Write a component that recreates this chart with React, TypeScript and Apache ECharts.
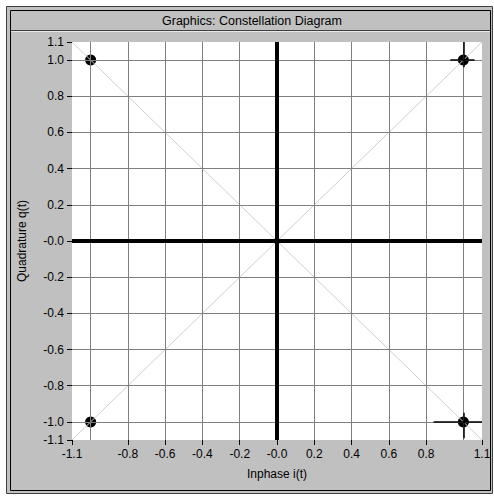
import React, { useEffect, useRef } from "react";
import * as echarts from "echarts";

const titleText = "Graphics: Constellation Diagram";
const xName = "Inphase i(t)";
const yName = "Quadrature q(t)";
const xTickValues = [-1.1, -0.8, -0.6, -0.4, -0.2, 0, 0.2, 0.4, 0.6, 0.8, 1.1];
const yTickValues = [-1.1, -1.0, -0.8, -0.6, -0.4, -0.2, 0, 0.2, 0.4, 0.6, 0.8, 1.0, 1.1];
const gridValues = [-1.0, -0.8, -0.6, -0.4, -0.2, 0.2, 0.4, 0.6, 0.8, 1.0];
const axisZero = [0];
const symbols = [
  [-1, 1],
  [1, 1],
  [-1, -1],
  [1, -1],
];
const diagonalA = [
  [-1.1, 1.1],
  [1.1, -1.1],
];
const diagonalB = [
  [-1.1, -1.1],
  [1.1, 1.1],
];
const cursorSegments = [
  [[0.93, 1], [1.06, 1]],
  [[1, 1.1], [1, 0.96]],
  [[0.84, -1], [1.1, -1]],
  [[1, -0.95], [1, -1.09]],
];

const fmt = (v: number) => (Math.abs(v) < 1e-9 ? "-0.0" : v.toFixed(1));
const FONT = "Liberation Sans, Arial, sans-serif";

export default function App() {
  const ref = useRef<HTMLDivElement>(null);
  useEffect(() => {
    if (!ref.current) return;
    const chart = echarts.init(ref.current, null, { renderer: "svg" });
    chart.setOption({
      animation: false,
      backgroundColor: "#ffffff",
      textStyle: { fontFamily: FONT },
      graphic: [
        {
          type: "rect",
          z: -10,
          shape: { x: 6.5, y: 6.5, width: 486, height: 487 },
          style: { fill: "#c0c0c0", stroke: "#404040", lineWidth: 1 },
        },
        {
          type: "rect",
          z: -9,
          shape: { x: 10.5, y: 10.5, width: 480, height: 480 },
          style: { fill: "#c0c0c0", stroke: "#000000", lineWidth: 1 },
        },
        {
          type: "line",
          z: -8,
          shape: { x1: 11, y1: 30.5, x2: 490, y2: 30.5 },
          style: { stroke: "#404040", lineWidth: 1 },
        },
        {
          type: "line",
          z: -8,
          shape: { x1: 11, y1: 31.5, x2: 490, y2: 31.5 },
          style: { stroke: "#e8e8e8", lineWidth: 1 },
        },
        {
          type: "text",
          x: 252,
          y: 21,
          style: {
            text: titleText,
            fill: "#000",
            font: `12.5px ${FONT}`,
            textAlign: "center",
            textVerticalAlign: "middle",
          },
        },
      ],
      grid: {
        left: 72,
        top: 42,
        right: 12,
        bottom: 57,
        show: true,
        backgroundColor: "#ffffff",
        borderWidth: 0,
      },
      xAxis: {
        type: "value",
        min: -1.1,
        max: 1.1,
        name: xName,
        nameLocation: "middle",
        nameGap: 28,
        nameTextStyle: { color: "#000", fontSize: 12, fontFamily: FONT },
        axisLine: { show: true, onZero: false, lineStyle: { color: "rgba(0,0,0,0)" } },
        splitLine: { show: false },
        axisTick: {
          show: true,
          customValues: xTickValues,
          length: 5,
          lineStyle: { color: "#000", width: 1 },
        },
        axisLabel: {
          customValues: xTickValues,
          formatter: fmt,
          color: "#000",
          fontSize: 12,
          fontFamily: FONT,
          margin: 8,
        },
      },
      yAxis: {
        type: "value",
        min: -1.1,
        max: 1.1,
        name: yName,
        nameLocation: "middle",
        nameGap: 44,
        nameTextStyle: { color: "#000", fontSize: 12, fontFamily: FONT },
        axisLine: { show: true, onZero: false, lineStyle: { color: "rgba(0,0,0,0)" } },
        splitLine: { show: false },
        axisTick: {
          show: true,
          customValues: yTickValues,
          length: 5,
          lineStyle: { color: "#000", width: 1 },
        },
        axisLabel: {
          customValues: yTickValues,
          formatter: fmt,
          color: "#000",
          fontSize: 12,
          fontFamily: FONT,
          margin: 8,
        },
      },
      series: [
        {
          type: "line",
          z: 1,
          data: [],
          silent: true,
          markLine: {
            symbol: "none",
            silent: true,
            animation: false,
            label: { show: false },
            lineStyle: { color: "#808080", width: 1, type: "solid" },
            emphasis: { disabled: true },
            data: [
              ...gridValues.map((v) => ({ xAxis: v })),
              ...gridValues.map((v) => ({ yAxis: v })),
            ],
          },
        },
        {
          type: "scatter",
          z: 2,
          data: symbols,
          symbol: "circle",
          symbolSize: 11,
          itemStyle: { color: "#000", opacity: 1 },
          silent: true,
        },
        {
          type: "line",
          z: 3,
          data: diagonalA,
          symbol: "none",
          lineStyle: { color: "#cfcfcf", width: 1 },
          silent: true,
        },
        {
          type: "line",
          z: 3,
          data: diagonalB,
          symbol: "none",
          lineStyle: { color: "#cfcfcf", width: 1 },
          silent: true,
        },
        {
          type: "line",
          z: 4,
          data: [],
          silent: true,
          markLine: {
            symbol: "none",
            silent: true,
            animation: false,
            label: { show: false },
            lineStyle: { color: "#000", width: 4, type: "solid" },
            emphasis: { disabled: true },
            data: [
              ...axisZero.map((v) => ({ xAxis: v })),
              ...axisZero.map((v) => ({ yAxis: v })),
            ],
          },
        },
        {
          type: "line",
          z: 5,
          data: [],
          silent: true,
          markLine: {
            symbol: "none",
            silent: true,
            animation: false,
            label: { show: false },
            lineStyle: { color: "#000", width: 1.5, type: "solid" },
            emphasis: { disabled: true },
            data: cursorSegments.map((seg) => [
              { coord: seg[0] },
              { coord: seg[1] },
            ]),
          },
        },
      ],
    });
    return () => chart.dispose();
  }, []);
  return (
    <div
      ref={ref}
      style={{ position: "fixed", left: 0, top: 0, width: 494, height: 497 }}
    />
  );
}
